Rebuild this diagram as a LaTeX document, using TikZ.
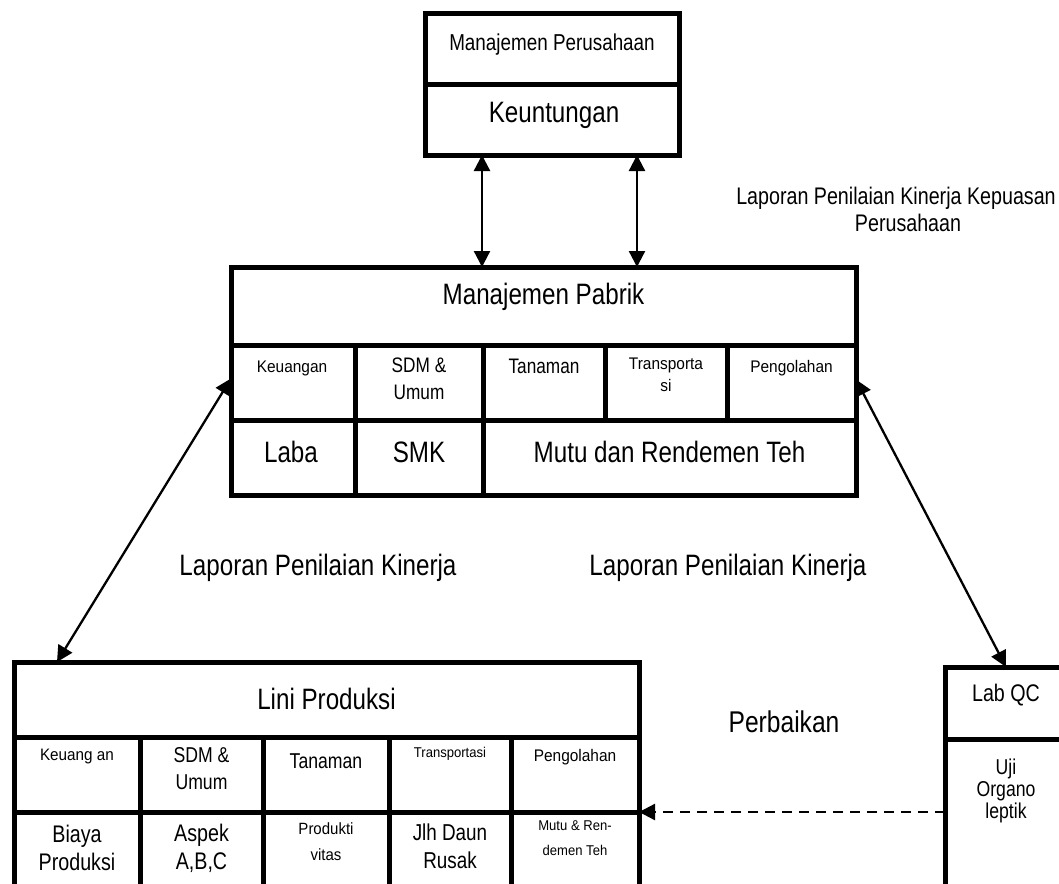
\documentclass[tikz,border=0pt]{standalone}
\usepackage{fontspec}
\setmainfont[FakeStretch=0.82]{Liberation Sans}
\newfontfamily\semifont[FakeStretch=0.92]{Liberation Sans}
\usetikzlibrary{arrows.meta}
\newcommand{\fs}[2]{\fontsize{#1}{#2}\selectfont}
\begin{document}
\begin{tikzpicture}[x=1pt,y=-1pt,
  cell/.style={draw, line width=5pt, rectangle, inner sep=0pt, outer sep=0pt, anchor=north west},
  txt/.style={inner sep=0pt, align=center, anchor=center},
  link/.style={line width=2.3pt, {Triangle[length=16pt,width=16pt]}-{Triangle[length=16pt,width=16pt]}},
  dlink/.style={line width=2.3pt, dash pattern=on 10pt off 7pt, -{Triangle[length=16pt,width=16pt]}}]
\useasboundingbox (0,0) rectangle (1059,883);
\clip (0,0) rectangle (1059,883);

% top box
\node[cell, minimum width=254pt, minimum height=70pt] (tMP) at (425,14) {};
\node[cell, minimum width=254pt, minimum height=71pt] (tK) at (425,84) {};
\node[txt, font=\fs{23}{28}] (tMPt) at (552,45) {Manajemen Perusahaan};
\node[txt, font=\fs{29.5}{35}] (tKt) at (554,115) {Keuntungan};

% middle box
\node[cell, minimum width=625pt, minimum height=78pt] (mPab) at (231,267) {};
\node[cell, minimum width=124pt, minimum height=75pt] (mKeu) at (231,345) {};
\node[cell, minimum width=128pt, minimum height=75pt] (mSDM) at (355,345) {};
\node[cell, minimum width=122pt, minimum height=75pt] (mTan) at (483,345) {};
\node[cell, minimum width=122pt, minimum height=75pt] (mTra) at (605,345) {};
\node[cell, minimum width=129pt, minimum height=75pt] (mPeng) at (727,345) {};
\node[cell, minimum width=124pt, minimum height=75pt] (mLaba) at (231,420) {};
\node[cell, minimum width=128pt, minimum height=75pt] (mSMK) at (355,420) {};
\node[cell, minimum width=373pt, minimum height=75pt] (mMutu) at (483,420) {};

\node[txt, font=\fs{29.5}{35}] (mPabt) at (543.5,297) {Manajemen Pabrik};
\node[txt, font=\semifont\fs{16.8}{22}] (mKeut) at (292,368) {Keuangan};
\node[txt, font=\fs{21}{27}] (mSDMt) at (419,379) {SDM \&\\Umum};
\node[txt, font=\fs{21}{26}] (mTant) at (544,366) {Tanaman};
\node[txt, font=\semifont\fs{16.8}{22}] (mTrat) at (666,375) {Transporta\\si};
\node[txt, font=\semifont\fs{16.8}{22}] (mPengt) at (791.5,368) {Pengolahan};
\node[txt, font=\fs{29.5}{35}] (mLabat) at (291,452) {Laba};
\node[txt, font=\fs{29.5}{35}] (mSMKt) at (419,452) {SMK};
\node[txt, font=\fs{29.5}{35}] (mMutut) at (669.5,452) {Mutu dan Rendemen Teh};

% lower-left box
\node[cell, minimum width=625pt, minimum height=75pt] (lLini) at (14,662) {};
\node[cell, minimum width=126pt, minimum height=75pt] (lKeu) at (14,737) {};
\node[cell, minimum width=123pt, minimum height=75pt] (lSDM) at (140,737) {};
\node[cell, minimum width=126pt, minimum height=75pt] (lTan) at (263,737) {};
\node[cell, minimum width=122pt, minimum height=75pt] (lTra) at (389,737) {};
\node[cell, minimum width=128pt, minimum height=75pt] (lPeng) at (511,737) {};
\node[cell, minimum width=126pt, minimum height=100pt] (lBia) at (14,812) {};
\node[cell, minimum width=123pt, minimum height=100pt] (lAsp) at (140,812) {};
\node[cell, minimum width=126pt, minimum height=100pt] (lPro) at (263,812) {};
\node[cell, minimum width=122pt, minimum height=100pt] (lJlh) at (389,812) {};
\node[cell, minimum width=128pt, minimum height=100pt] (lMut) at (511,812) {};

\node[txt, font=\fs{29.5}{35}] (lLinit) at (326.5,699) {Lini Produksi};
\node[txt, font=\semifont\fs{16.6}{22}] (lKeut) at (77,757) {Keuang an};
\node[txt, font=\fs{21.5}{27}] (lSDMt) at (201.5,769) {SDM \&\\Umum};
\node[txt, font=\fs{21.5}{26}] (lTant) at (326,761) {Tanaman};
\node[txt, font=\semifont\fs{14.2}{20}] (lTrat) at (450,754) {Transportasi};
\node[txt, font=\semifont\fs{16.8}{22}] (lPengt) at (575,757) {Pengolahan};
\node[txt, font=\fs{24}{28}] (lBiat) at (77,848) {Biaya\\Produksi};
\node[txt, font=\fs{24}{28}] (lAspt) at (201.5,848) {Aspek\\A,B,C};
\node[txt, font=\semifont\fs{16.3}{26}] (lProt) at (326,842) {Produkti\\vitas};
\node[txt, font=\fs{23}{28}] (lJlht) at (450,846) {Jlh Daun\\Rusak};
\node[txt, font=\semifont\fs{14.2}{25}] (lMutt) at (575,838) {Mutu \& Ren-\\demen Teh};

% Lab QC box
\node[cell, minimum width=122pt, minimum height=72pt] (lab) at (945,667) {};
\node[cell, minimum width=122pt, minimum height=170pt] (uji) at (945,739) {};
\node[txt, font=\fs{24}{28}] (labt) at (1006,695) {Lab QC};
\node[txt, font=\fs{21.5}{22}] (ujit) at (1006,791) {Uji\\Organo\\leptik};

% free labels
\node[txt, font=\fs{24}{27}] (lapTop) at (896,209) {Laporan Penilaian Kinerja Kepuasan\\\hspace*{24pt}Perusahaan};
\node[txt, font=\fs{29.5}{35}] (lapL) at (318,568) {Laporan Penilaian Kinerja};
\node[txt, font=\fs{29.5}{35}] (lapR) at (728,568) {Laporan Penilaian Kinerja};
\node[txt, font=\fs{30}{35}] (perb) at (784,722) {Perbaikan};

% connectors
\coordinate (v1) at ([xshift=57pt]tK.south west);
\coordinate (v2) at ([xshift=212pt]tK.south west);
\draw[link] (v1) -- (v1 |- mPab.north);
\draw[link] (v2) -- (v2 |- mPab.north);
\draw[link] ([yshift=4pt]mKeu.west) -- ([xshift=43pt]lLini.north west);
\draw[link] ([yshift=3pt]mPeng.east) -- (lab.north);
\draw[dlink] (uji.west |- lPeng.south east) -- (lPeng.south east);
\end{tikzpicture}
\end{document}
